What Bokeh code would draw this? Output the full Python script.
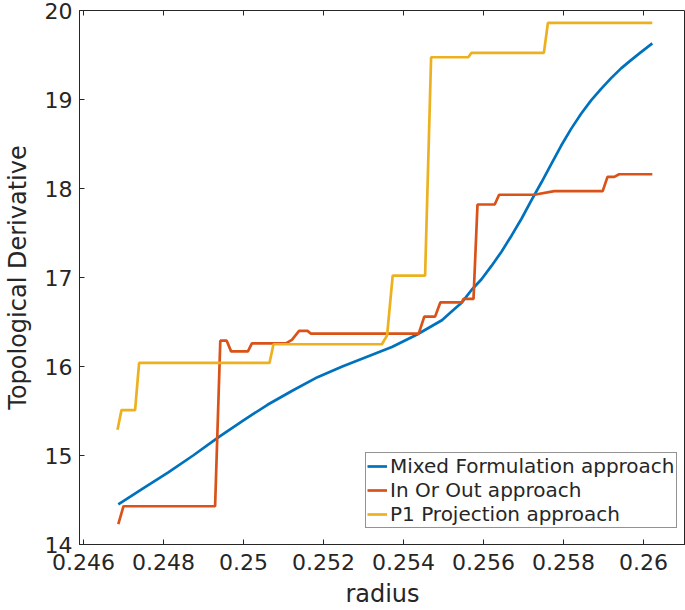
import math
from bokeh.plotting import figure
from bokeh.models import (Range1d, FixedTicker, CustomJSTickFormatter,
                          Legend, LegendItem)
from bokeh.embed import file_html
from bokeh.resources import INLINE

# ---- data ----
mixed_x = [0.24687, 0.24749, 0.24812, 0.24874, 0.24936, 0.24998, 0.25060, 0.25123,
           0.25185, 0.25247, 0.25309, 0.25371, 0.25434, 0.25496, 0.25521, 0.25546,
           0.25570, 0.25595, 0.25620, 0.25645, 0.25670, 0.25695, 0.25720, 0.25745,
           0.25769, 0.25794, 0.25819, 0.25844, 0.25869, 0.25894, 0.25919, 0.25944,
           0.25968, 0.25993, 0.26022]
mixed_y = [14.45, 14.63, 14.81, 15.00, 15.20, 15.39, 15.57, 15.73,
           15.88, 16.00, 16.11, 16.22, 16.36, 16.52, 16.62, 16.72,
           16.86, 16.98, 17.13, 17.29, 17.47, 17.66, 17.87, 18.07,
           18.27, 18.48, 18.67, 18.84, 18.99, 19.12, 19.24, 19.35,
           19.44, 19.53, 19.63]

inout_x = [0.24687, 0.24700, 0.24929, 0.24942, 0.24958, 0.24969, 0.25011, 0.25021,
           0.25106, 0.25121, 0.25139, 0.25160, 0.25168, 0.25438, 0.25452, 0.25479,
           0.25492, 0.25546, 0.25550, 0.25575, 0.25585, 0.25628, 0.25639, 0.25727,
           0.25777, 0.25898, 0.25910, 0.25927, 0.25939, 0.26022]
inout_y = [14.23, 14.43, 14.43, 16.29, 16.29, 16.17, 16.17, 16.26,
           16.26, 16.30, 16.40, 16.40, 16.37, 16.37, 16.56, 16.56,
           16.72, 16.72, 16.76, 16.76, 17.82, 17.82, 17.93, 17.93,
           17.97, 17.97, 18.13, 18.13, 18.16, 18.16]

p1_x = [0.24685, 0.24695, 0.24729, 0.24739, 0.25065, 0.25075, 0.25346, 0.25359,
        0.25373, 0.25454, 0.25469, 0.25562, 0.25570, 0.25751, 0.25761, 0.26022]
p1_y = [15.29, 15.51, 15.51, 16.04, 16.04, 16.25, 16.25, 16.35,
        17.02, 17.02, 19.475, 19.475, 19.525, 19.525, 19.86, 19.86]

x_ticks = [0.246, 0.248, 0.250, 0.252, 0.254, 0.256, 0.258, 0.260]
y_ticks = [14, 15, 16, 17, 18, 19, 20]

series_names = ["Mixed Formulation approach", "In Or Out approach", "P1 Projection approach"]
colors = ["#0072BD", "#D95319", "#EDB120"]

AX = "#262626"
FONT = "DejaVu Sans"

y_lo, y_hi = y_ticks[0], y_ticks[-1]

p = figure(width=685, height=610, output_backend="svg", toolbar_location=None,
           x_range=Range1d(0.2459, 0.26105), y_range=Range1d(y_lo, y_hi),
           min_border_left=76, min_border_right=0, min_border_top=10,
           min_border_bottom=66)
p.xgrid.visible = False
p.ygrid.visible = False
p.outline_line_color = AX
p.outline_line_width = 1
p.background_fill_color = "white"
p.border_fill_color = "white"

fmt = CustomJSTickFormatter(code="return tick.toFixed(3).replace(/0+$/, '');")

for ax in p.xaxis:
    ax.ticker = FixedTicker(ticks=x_ticks)
    ax.formatter = fmt
for ax in p.yaxis:
    ax.ticker = FixedTicker(ticks=y_ticks)

for ax in list(p.xaxis) + list(p.yaxis):
    ax.major_tick_in = 5
    ax.major_tick_out = 0
    ax.minor_tick_line_color = None
    ax.axis_line_color = AX
    ax.major_tick_line_color = AX
    ax.major_label_text_font = FONT
    ax.major_label_text_font_size = "22px"
    ax.major_label_text_color = AX
    ax.axis_label_text_font = FONT
    ax.axis_label_text_font_size = "24px"
    ax.axis_label_text_font_style = "normal"
    ax.axis_label_text_color = AX

p.xaxis.axis_label = "radius"
p.yaxis.axis_label = "Topological Derivative"
p.xaxis.major_label_standoff = 9
p.xaxis.axis_label_standoff = 7
p.yaxis.major_label_standoff = 7
p.yaxis.axis_label_standoff = 10

# inward ticks on the top edge of the box (clipped to the frame)
p.scatter(x_ticks, [y_hi] * len(x_ticks), marker="dash", angle=math.pi / 2,
          size=10, line_color=AX, line_width=1)

renderers = []
for xs, ys, c in zip([mixed_x, inout_x, p1_x], [mixed_y, inout_y, p1_y], colors):
    r = p.line(xs, ys, line_color=c, line_width=2.7)
    renderers.append(r)

legend = Legend(items=[LegendItem(label=n, renderers=[r]) for n, r in zip(series_names, renderers)],
                location=(286, 16), label_text_font=FONT, label_text_font_size="20px",
                label_text_line_height=1.0,
                label_text_color=AX, glyph_width=20, glyph_height=18, label_height=18,
                label_standoff=3, spacing=0, padding=1, margin=0,
                border_line_color=AX, border_line_width=1,
                background_fill_color="white", background_fill_alpha=1)
p.add_layout(legend, "center")

open("out.html", "w").write(file_html(p, INLINE))
